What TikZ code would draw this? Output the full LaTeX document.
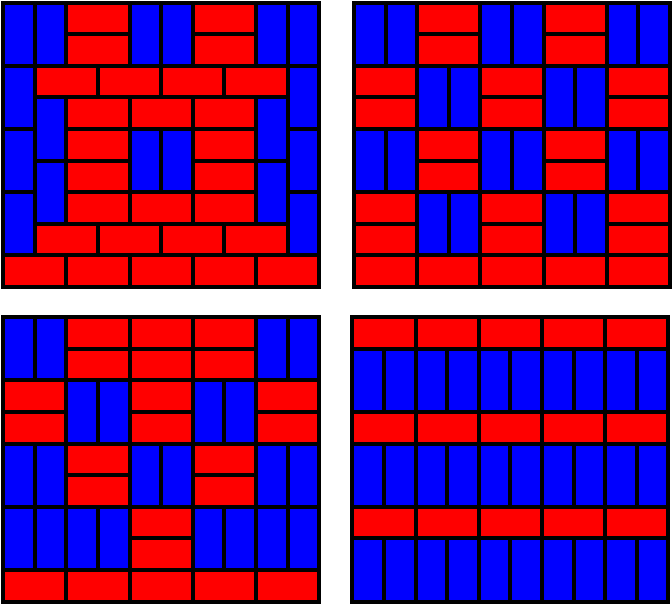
\documentclass[tikz,border=0pt]{standalone}
\begin{document}
\begin{tikzpicture}[x=15.8pt,y=-15.8pt]
\tikzset{
  redtile/.style={fill=red,draw=black,line width=2pt},
  bluetile/.style={fill=blue,draw=black,line width=2pt}
}
\newcommand\hdom[2]{\draw[redtile] (#1,#2) rectangle ++(2,1);}
\newcommand\vdom[2]{\draw[bluetile] (#1,#2) rectangle ++(1,2);}
\useasboundingbox (0,0) rectangle (21.266,19.209);
% Panel 1
\begin{scope}[shift={(0.104,0.085)}]
  \foreach \c in {0,1,4,5,8,9} {\vdom{\c}{0}}
  \foreach \c in {2,6} {\hdom{\c}{0}\hdom{\c}{1}}
  \foreach \r in {2,4,6} {\vdom{0}{\r}\vdom{9}{\r}}
  \foreach \c in {1,3,5,7} {\hdom{\c}{2}\hdom{\c}{7}}
  \foreach \r in {3,5} {\vdom{1}{\r}\vdom{8}{\r}}
  \foreach \c in {2,4,6} {\hdom{\c}{3}\hdom{\c}{6}}
  \hdom{2}{4}\hdom{2}{5}\hdom{6}{4}\hdom{6}{5}\vdom{4}{4}\vdom{5}{4}
  \foreach \c in {0,2,4,6,8} {\hdom{\c}{8}}
\end{scope}
% Panel 2
\begin{scope}[shift={(11.203,0.085)}]
  \foreach \r in {0,4} {
    \foreach \c in {0,1,4,5,8,9} {\vdom{\c}{\r}}
    \foreach \c in {2,6} {\hdom{\c}{\r}\hdom{\c}{\r+1}}
  }
  \foreach \r in {2,6} {
    \foreach \c in {2,3,6,7} {\vdom{\c}{\r}}
    \foreach \c in {0,4,8} {\hdom{\c}{\r}\hdom{\c}{\r+1}}
  }
  \foreach \c in {0,2,4,6,8} {\hdom{\c}{8}}
\end{scope}
% Panel 3
\begin{scope}[shift={(0.104,10.041)}]
  \foreach \c in {0,1,8,9} {\vdom{\c}{0}}
  \foreach \c in {2,4,6} {\hdom{\c}{0}\hdom{\c}{1}}
  \foreach \c in {2,3,6,7} {\vdom{\c}{2}}
  \foreach \c in {0,4,8} {\hdom{\c}{2}\hdom{\c}{3}}
  \foreach \c in {0,1,4,5,8,9} {\vdom{\c}{4}}
  \foreach \c in {2,6} {\hdom{\c}{4}\hdom{\c}{5}}
  \foreach \c in {0,1,2,3,6,7,8,9} {\vdom{\c}{6}}
  \hdom{4}{6}\hdom{4}{7}
  \foreach \c in {0,2,4,6,8} {\hdom{\c}{8}}
\end{scope}
% Panel 4
\begin{scope}[shift={(11.149,10.041)}]
  \foreach \r in {0,3,6} {
    \foreach \c in {0,2,4,6,8} {\hdom{\c}{\r}}
    \foreach \c in {0,...,9} {\vdom{\c}{\r+1}}
  }
\end{scope}
\end{tikzpicture}
\end{document}
